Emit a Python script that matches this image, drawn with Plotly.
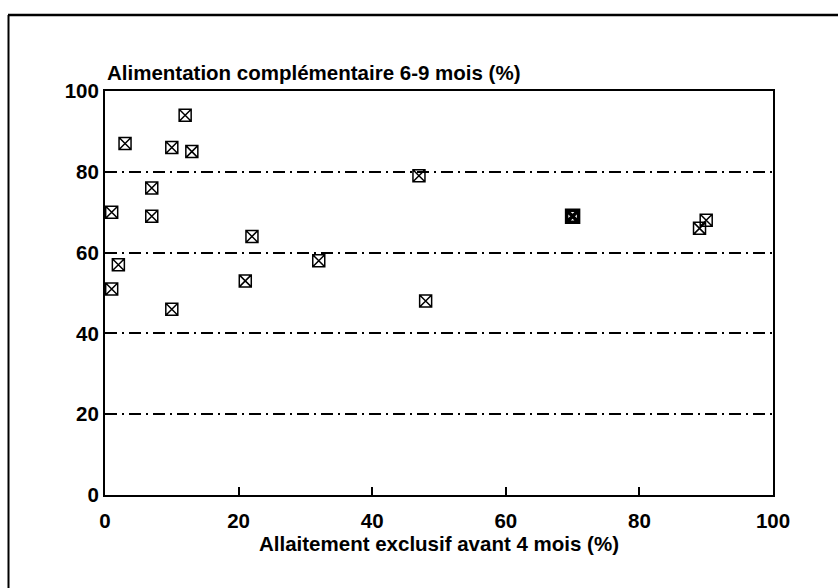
import plotly.graph_objects as go

# Data
excl_bf = [1, 1, 2, 3, 7, 7, 10, 10, 12, 13, 21, 22, 32, 47, 48, 70, 89, 90]
comp_feed = [51, 70, 57, 87, 69, 76, 86, 46, 94, 85, 53, 64, 58, 79, 48, 69, 66, 68]
edge_w = [1.5, 1.5, 1.5, 1.5, 1.5, 1.5, 1.5, 1.5, 1.5, 1.5, 1.5, 1.5, 1.5, 1.5, 1.5, 3.5, 1.5, 1.5]

tick_vals = [0, 20, 40, 60, 80, 100]
tick_text = ["0", "20", "40", "60", "80", "100"]

y_title = "Alimentation complémentaire 6-9 mois (%)"
x_title = "Allaitement exclusif avant 4 mois (%)"

W, H = 838, 588
L, R, T, B = 105, 65, 91, 93
pw, ph = W - L - R, H - T - B

FONT = "Liberation Sans, Arial, sans-serif"
FS = 20.5

fig = go.Figure()
fig.add_trace(go.Scatter(
    x=excl_bf, y=comp_feed, mode="markers",
    marker=dict(symbol="square-x-open", size=12, color="black",
                line=dict(color="black", width=edge_w)),
    showlegend=False, hoverinfo="x+y",
))

def px2paper_x(px):
    return (px - L) / pw

def px2paper_y(py):
    return (H - B - py) / ph

# outer scanned frame (top and left lines)
fig.add_shape(type="line", xref="paper", yref="paper",
              x0=px2paper_x(8), x1=px2paper_x(840), y0=px2paper_y(15), y1=px2paper_y(15),
              line=dict(color="black", width=2.5))
fig.add_shape(type="line", xref="paper", yref="paper",
              x0=px2paper_x(8.5), x1=px2paper_x(8.5), y0=px2paper_y(15), y1=px2paper_y(590),
              line=dict(color="black", width=2))

fig.add_annotation(text="<b>" + y_title + "</b>", xref="paper", yref="paper",
                   x=0, y=px2paper_y(73), xanchor="left", yanchor="middle",
                   showarrow=False, font=dict(family=FONT, size=FS, color="black"))

fig.update_layout(
    width=W, height=H,
    margin=dict(l=L, r=R, t=T, b=B),
    paper_bgcolor="white", plot_bgcolor="white",
    font=dict(family=FONT, size=FS, color="black"),
    xaxis=dict(
        range=[0, 100], tickvals=tick_vals, ticktext=["<b>%s</b>" % t for t in tick_text],
        showline=True, linecolor="black", linewidth=2, mirror=True,
        ticks="inside", ticklen=8, tickwidth=1.5, tickcolor="black",
        ticklabelstandoff=6,
        showgrid=False, zeroline=False,
        title=dict(text="<b>" + x_title + "</b>", font=dict(size=FS), standoff=6),
    ),
    yaxis=dict(
        range=[0, 100], tickvals=tick_vals, ticktext=["<b>%s</b>" % t for t in tick_text],
        showline=True, linecolor="black", linewidth=2, mirror=True,
        ticks="", showgrid=True, gridcolor="black", gridwidth=1.6,
        griddash="12px,5px,2px,5px", zeroline=False,
    ),
)

fig.write_html("out.html")
